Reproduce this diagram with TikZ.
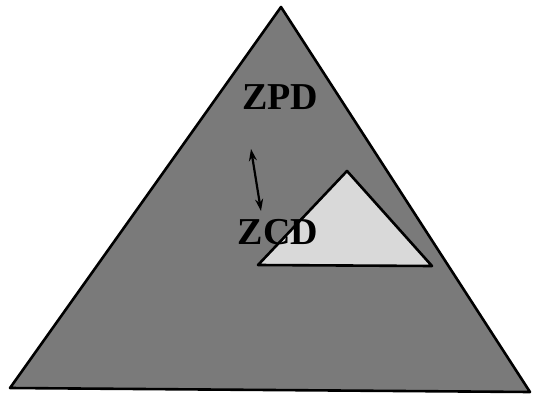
\documentclass[tikz,border=0pt]{standalone}
\usepackage{fontspec}
\setmainfont{Liberation Serif}
\usetikzlibrary{arrows.meta,positioning}

\begin{document}
\begin{tikzpicture}[
  x=1pt, y=-1pt,
  zone/.style={draw=black, line width=2.6pt, line join=round},
  outer/.style={zone, fill=black!52},
  inner/.style={zone, fill=black!15},
  lbl/.style={font=\fontsize{38}{38}\selectfont\bfseries, inner sep=0pt},
  arrow/.style={{Stealth[length=12pt,width=8pt]}-{Stealth[length=12pt,width=8pt]}, line width=2.2pt}
]
\useasboundingbox (0,0) rectangle (534,398);
% outer triangle
\coordinate (apex) at (281,7);
\coordinate (bl) at (10,388);
\coordinate (br) at (530,392);
\draw[outer] (apex) -- (bl) -- (br) -- cycle;
% inner triangle
\coordinate (iapex) at (347,171);
\coordinate (ibl) at (258,265);
\coordinate (ibr) at (432,266);
\draw[inner] (iapex) -- (ibl) -- (ibr) -- cycle;
% labels
\node[lbl] (zpd) at (280,97) {ZPD};
\node[lbl] (zcd) at (278,232) {ZCD};
\coordinate (top) at (251,149);
\coordinate (bot) at (261,211);
\draw[arrow] (top) -- (bot);
\end{tikzpicture}
\end{document}
